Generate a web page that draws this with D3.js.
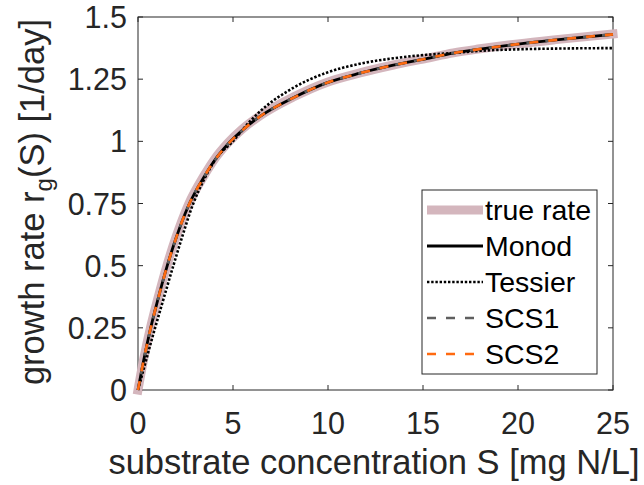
<!DOCTYPE html>
<html>
<head>
<meta charset="utf-8">
<script src="https://cdn.jsdelivr.net/npm/d3@7"></script>
<style>
body { margin: 0; background: #fff; }
svg { font-family: "Liberation Sans", Arial, sans-serif; }
</style>
</head>
<body>
<svg width="644" height="485"></svg>
<script>
// values
var sMain = [0, 0.3, 0.67, 1.0, 1.54, 2.0, 2.65, 3.5, 4.0, 4.75, 5.5, 6.42, 8.17, 9.93, 11.68, 13.44, 15.19, 16.6, 18, 20, 22, 25];
var rTrue = [0, 0.125, 0.255, 0.355, 0.505, 0.615, 0.745, 0.865, 0.925, 0.995, 1.05, 1.103, 1.178, 1.237, 1.275, 1.307, 1.334, 1.356, 1.372, 1.392, 1.409, 1.432];
var rMonod = [0, 0.12, 0.25, 0.35, 0.5, 0.61, 0.74, 0.86, 0.92, 0.99, 1.045, 1.1, 1.175, 1.235, 1.274, 1.306, 1.333, 1.355, 1.371, 1.391, 1.408, 1.43];
var rSCS1 = rMonod;
var rSCS2 = rMonod;

var sTess = [0, 0.3, 0.9, 1.3, 1.86, 2.3, 2.91, 3.5, 4.2, 4.93, 5.89, 6.42, 8.17, 9.93, 11.68, 13.44, 15.19, 16.6, 18, 20, 22, 25];
var rTess = [0, 0.085, 0.25, 0.355, 0.5, 0.61, 0.75, 0.85, 0.94, 0.995, 1.08, 1.12, 1.215, 1.276, 1.312, 1.334, 1.348, 1.355, 1.364, 1.37, 1.373, 1.375];

var xTicks = [0, 5, 10, 15, 20, 25];
var yTicks = [0, 0.25, 0.5, 0.75, 1, 1.25, 1.5];

var svg = d3.select("svg"),
    margin = {top: 17, right: 31, bottom: 95, left: 138},
    width = 644 - margin.left - margin.right,
    height = 485 - margin.top - margin.bottom,
    g = svg.append("g").attr("transform", "translate(" + margin.left + "," + margin.top + ")");

var axisColor = "#262626";

var x = d3.scaleLinear().domain([0, 25]).range([0, width]);
var y = d3.scaleLinear().domain([0, 1.5]).range([height, 0]);

function toPoints(sv, rv) {
    return sv.map(function(s, i) { return {s: s, r: rv[i]}; });
}

var line = d3.line()
    .x(function(d) { return x(d.s); })
    .y(function(d) { return y(d.r); })
    .curve(d3.curveMonotoneX);

// box
g.append("rect")
    .attr("width", width)
    .attr("height", height)
    .attr("fill", "none")
    .attr("stroke", axisColor)
    .attr("stroke-width", 1);

// ticks pointing inward on all four sides
var tl = 5;
xTicks.forEach(function(t) {
    g.append("line").attr("x1", x(t)).attr("x2", x(t)).attr("y1", height).attr("y2", height - tl)
        .attr("stroke", axisColor);
    g.append("line").attr("x1", x(t)).attr("x2", x(t)).attr("y1", 0).attr("y2", tl)
        .attr("stroke", axisColor);
    g.append("text")
        .attr("x", x(t))
        .attr("y", height + 44)
        .attr("text-anchor", "middle")
        .attr("font-size", 30.5)
        .attr("fill", axisColor)
        .text(t);
});
yTicks.forEach(function(t) {
    g.append("line").attr("x1", 0).attr("x2", tl).attr("y1", y(t)).attr("y2", y(t))
        .attr("stroke", axisColor);
    g.append("line").attr("x1", width).attr("x2", width - tl).attr("y1", y(t)).attr("y2", y(t))
        .attr("stroke", axisColor);
    g.append("text")
        .attr("x", -11)
        .attr("y", y(t) + 11)
        .attr("text-anchor", "end")
        .attr("font-size", 30.5)
        .attr("fill", axisColor)
        .text(t);
});

// curves
var series = [
    {name: "true rate", pts: toPoints(sMain, rTrue), color: "#d4b6bd", w: 9, dash: null, off: 0, cap: "square"},
    {name: "Monod", pts: toPoints(sMain, rMonod), color: "#000", w: 2.8, dash: null, off: 0, cap: "butt"},
    {name: "Tessier", pts: toPoints(sTess, rTess), color: "#000", w: 2.6, dash: "2.4,1.8", off: 0, cap: "butt"},
    {name: "SCS1", pts: toPoints(sMain, rSCS1), color: "#5f5f5f", w: 2.6, dash: "9,10", off: 3, cap: "butt"},
    {name: "SCS2", pts: toPoints(sMain, rSCS2), color: "#ff6a10", w: 2.6, dash: "9,10", off: 0, cap: "butt"}
];

series.forEach(function(d) {
    g.append("path")
        .datum(d.pts)
        .attr("fill", "none")
        .attr("stroke", d.color)
        .attr("stroke-width", d.w)
        .attr("stroke-linecap", d.cap)
        .attr("stroke-dasharray", d.dash)
        .attr("stroke-dashoffset", d.off)
        .attr("d", line);
});

// legend
var lg = svg.append("g").attr("transform", "translate(422,190)");
lg.append("rect")
    .attr("width", 175)
    .attr("height", 184)
    .attr("fill", "#fff")
    .attr("stroke", axisColor)
    .attr("stroke-width", 1);
series.forEach(function(d, i) {
    var yy = 20 + i * 36;
    lg.append("line")
        .attr("x1", 5).attr("x2", 61)
        .attr("y1", yy).attr("y2", yy)
        .attr("stroke", d.color)
        .attr("stroke-width", d.w)
        .attr("stroke-dasharray", d.dash);
    lg.append("text")
        .attr("x", 63)
        .attr("y", yy + 10)
        .attr("font-size", 28.5)
        .attr("fill", "#000")
        .text(d.name);
});

// axis labels
svg.append("text")
    .attr("x", 374)
    .attr("y", 474)
    .attr("text-anchor", "middle")
    .attr("font-size", 34.5)
    .attr("fill", axisColor)
    .text("substrate concentration S [mg N/L]");

var yl = svg.append("text")
    .attr("transform", "translate(44,202) rotate(-90)")
    .attr("text-anchor", "middle")
    .attr("font-size", 34.5)
    .attr("fill", axisColor);
yl.append("tspan").text("growth rate r");
yl.append("tspan").attr("font-size", 24).attr("dy", 8).text("g");
yl.append("tspan").attr("dy", -8).text("(S) [1/day]");
</script>
</body>
</html>
